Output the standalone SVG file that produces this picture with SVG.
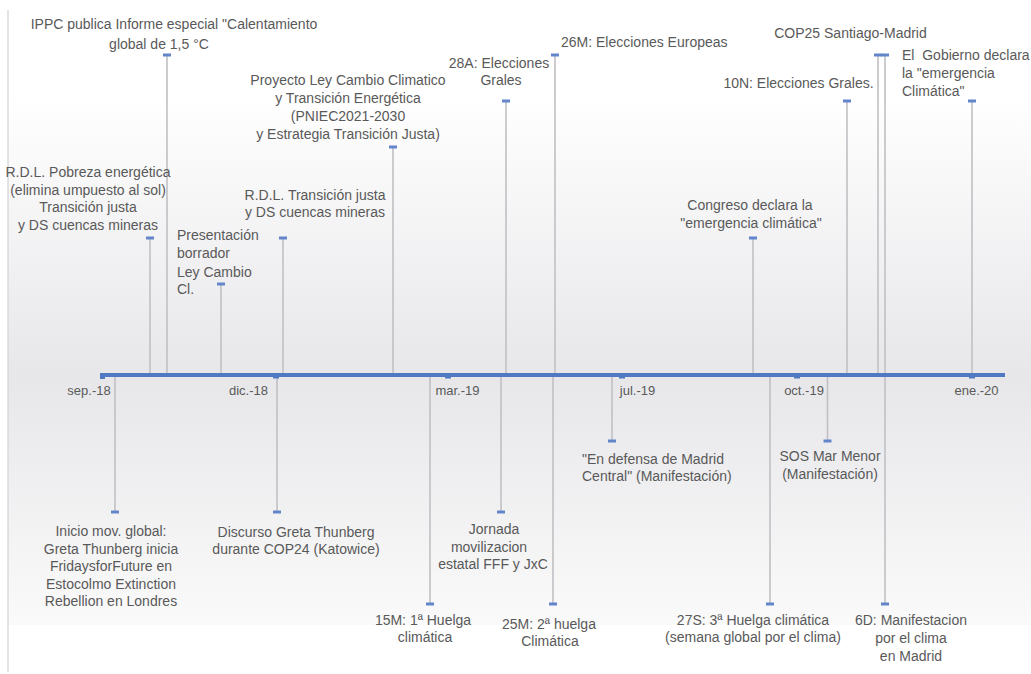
<svg xmlns="http://www.w3.org/2000/svg" width="1031" height="674" viewBox="0 0 1031 674">
<defs>
<linearGradient id="bg" x1="0" y1="0" x2="0" y2="1">
<stop offset="0" stop-color="#ffffff"/>
<stop offset="0.53" stop-color="#e7e7ea"/>
<stop offset="1" stop-color="#fafafa"/>
</linearGradient>
</defs>
<style>
text{font-family:"Liberation Sans",Arial,sans-serif;font-size:14px;fill:#595959}
.m{text-anchor:middle}
.ax{font-size:13px}
.stem{stroke:#c0c0c5;stroke-width:1.6;fill:none}
.mk{fill:#6386cb}
</style>
<rect x="0" y="0" width="1031" height="674" fill="#ffffff"/>
<rect x="8" y="95" width="1023" height="530" fill="url(#bg)"/>
<line x1="8" y1="10" x2="8" y2="672" stroke="#d2d2d4" stroke-width="1.2"/>
<g id="connectors">
<line class="stem" x1="150" y1="375" x2="150" y2="238"/>
<line class="stem" x1="167" y1="375" x2="167" y2="55"/>
<line class="stem" x1="221" y1="375" x2="221" y2="284"/>
<line class="stem" x1="283" y1="375" x2="283" y2="238"/>
<line class="stem" x1="393" y1="375" x2="393" y2="147"/>
<line class="stem" x1="506" y1="375" x2="506" y2="101"/>
<line class="stem" x1="555" y1="375" x2="555" y2="55"/>
<line class="stem" x1="753" y1="375" x2="753" y2="238"/>
<line class="stem" x1="847" y1="375" x2="847" y2="101"/>
<line class="stem" x1="878" y1="375" x2="878" y2="55"/>
<line class="stem" x1="885" y1="375" x2="885" y2="55"/>
<line class="stem" x1="972" y1="375" x2="972" y2="101"/>
<line class="stem" x1="115" y1="375" x2="115" y2="512"/>
<line class="stem" x1="277" y1="375" x2="277" y2="512"/>
<line class="stem" x1="430" y1="375" x2="430" y2="604"/>
<line class="stem" x1="501" y1="375" x2="501" y2="512"/>
<line class="stem" x1="553" y1="375" x2="553" y2="604"/>
<line class="stem" x1="612" y1="375" x2="612" y2="441"/>
<line class="stem" x1="770" y1="375" x2="770" y2="604"/>
<line class="stem" x1="827.5" y1="375" x2="827.5" y2="441"/>
<line class="stem" x1="885" y1="375" x2="885" y2="604"/>
<rect class="mk" x="146" y="236.5" width="8" height="3"/>
<rect class="mk" x="163" y="53.5" width="8" height="3"/>
<rect class="mk" x="217" y="282.5" width="8" height="3"/>
<rect class="mk" x="279" y="236.5" width="8" height="3"/>
<rect class="mk" x="389" y="145.5" width="8" height="3"/>
<rect class="mk" x="502" y="99.5" width="8" height="3"/>
<rect class="mk" x="551" y="53.5" width="8" height="3"/>
<rect class="mk" x="749" y="236.5" width="8" height="3"/>
<rect class="mk" x="843" y="99.5" width="8" height="3"/>
<rect class="mk" x="874" y="53.5" width="8" height="3"/>
<rect class="mk" x="881" y="53.5" width="8" height="3"/>
<rect class="mk" x="968" y="99.5" width="8" height="3"/>
<rect class="mk" x="111" y="510.5" width="8" height="3"/>
<rect class="mk" x="273" y="510.5" width="8" height="3"/>
<rect class="mk" x="426" y="602.5" width="8" height="3"/>
<rect class="mk" x="497" y="510.5" width="8" height="3"/>
<rect class="mk" x="549" y="602.5" width="8" height="3"/>
<rect class="mk" x="608" y="439.5" width="8" height="3"/>
<rect class="mk" x="766" y="602.5" width="8" height="3"/>
<rect class="mk" x="823.5" y="439.5" width="8" height="3"/>
<rect class="mk" x="881" y="602.5" width="8" height="3"/>
</g>
<g id="axis">
<rect x="100" y="373" width="905" height="4" fill="#5079c4"/>
<rect x="100" y="376" width="5" height="3" fill="#5079c4"/>
<rect x="273" y="376" width="6" height="2.5" fill="#5079c4"/>
<rect x="445" y="376" width="6" height="2.5" fill="#5079c4"/>
<rect x="619" y="376" width="6" height="2.5" fill="#5079c4"/>
<rect x="794" y="376" width="6" height="2.5" fill="#5079c4"/>
<rect x="969" y="376" width="6" height="2.5" fill="#5079c4"/>
<text class="ax m" x="89" y="395">sep.-18</text>
<text class="ax m" x="248.5" y="395">dic.-18</text>
<text class="ax m" x="457.5" y="395">mar.-19</text>
<text class="ax m" x="637.5" y="395">jul.-19</text>
<text class="ax m" x="804" y="395">oct.-19</text>
<text class="ax m" x="976.5" y="395">ene.-20</text>
</g>
<g id="ippc">
<text class="m" x="174" y="29">IPPC publica Informe especial "Calentamiento</text>
<text class="m" x="159" y="49">global de 1,5 °C</text>
</g>
<g id="rdl-pobreza">
<text class="m" x="88" y="177">R.D.L. Pobreza energética</text>
<text class="m" x="88" y="195">(elimina umpuesto al sol)</text>
<text class="m" x="88" y="212">Transición justa</text>
<text class="m" x="88" y="230">y DS cuencas mineras</text>
</g>
<g id="presentacion">
<text x="177" y="240">Presentación</text>
<text x="177" y="258">borrador</text>
<text x="177" y="276.5">Ley Cambio</text>
<text x="177" y="294">Cl.</text>
</g>
<g id="rdl-transicion">
<text class="m" x="315" y="199.5">R.D.L. Transición justa</text>
<text class="m" x="315" y="217">y DS cuencas mineras</text>
</g>
<g id="proyecto-ley">
<text class="m" x="348" y="85">Proyecto Ley Cambio Climatico</text>
<text class="m" x="348" y="103">y Transición Energética</text>
<text class="m" x="348" y="121">(PNIEC2021-2030</text>
<text class="m" x="348" y="138.5">y Estrategia Transición Justa)</text>
</g>
<g id="elecciones-28a">
<text class="m" x="499" y="67.5">28A: Elecciones</text>
<text class="m" x="501" y="85">Grales</text>
</g>
<g id="elecciones-26m">
<text x="561" y="47">26M: Elecciones Europeas</text>
</g>
<g id="congreso">
<text class="m" x="750" y="210">Congreso declara la</text>
<text class="m" x="751" y="228">"emergencia climática"</text>
</g>
<g id="elecciones-10n">
<text class="m" x="798.5" y="88">10N: Elecciones Grales.</text>
</g>
<g id="cop25">
<text class="m" x="850.5" y="38">COP25 Santiago-Madrid</text>
</g>
<g id="gobierno">
<text x="902" y="60" xml:space="preserve">El  Gobierno declara</text>
<text x="902" y="77.5">la "emergencia</text>
<text x="902" y="95.5">Climática"</text>
</g>
<g id="inicio-mov">
<text class="m" x="111" y="536">Inicio mov. global:</text>
<text class="m" x="111" y="553.5">Greta Thunberg inicia</text>
<text class="m" x="111" y="571">FridaysforFuture en</text>
<text class="m" x="111" y="588.5">Estocolmo Extinction</text>
<text class="m" x="111" y="606">Rebellion en Londres</text>
</g>
<g id="discurso">
<text class="m" x="296" y="536.5">Discurso Greta Thunberg</text>
<text class="m" x="296" y="554">durante COP24 (Katowice)</text>
</g>
<g id="huelga-15m">
<text class="m" x="423" y="624.5">15M: 1ª Huelga</text>
<text class="m" x="425" y="642">climática</text>
</g>
<g id="jornada">
<text class="m" x="494" y="534">Jornada</text>
<text class="m" x="489" y="551.5">movilizacion</text>
<text class="m" x="493" y="569">estatal FFF y JxC</text>
</g>
<g id="huelga-25m">
<text class="m" x="549" y="628.5">25M: 2ª huelga</text>
<text class="m" x="550" y="646">Climática</text>
</g>
<g id="madrid-central">
<text x="582" y="463.5">"En defensa de Madrid</text>
<text x="582" y="481">Central" (Manifestación)</text>
</g>
<g id="huelga-27s">
<text class="m" x="753" y="624.5">27S: 3ª Huelga climática</text>
<text class="m" x="753" y="642">(semana global por el clima)</text>
</g>
<g id="mar-menor">
<text class="m" x="830" y="461">SOS Mar Menor</text>
<text class="m" x="830" y="478.5">(Manifestación)</text>
</g>
<g id="manifestacion-6d">
<text class="m" x="911" y="625">6D: Manifestacion</text>
<text class="m" x="911" y="643">por el clima</text>
<text class="m" x="911" y="660.5">en Madrid</text>
</g>
</svg>
